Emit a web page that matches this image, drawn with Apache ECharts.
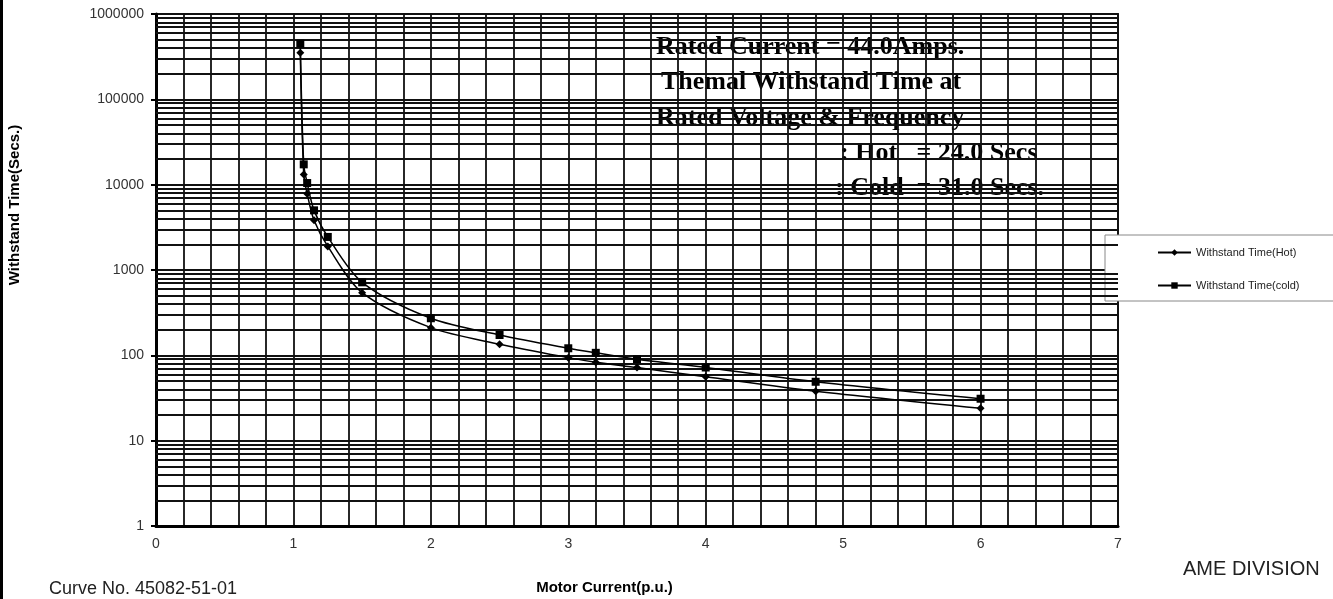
<!DOCTYPE html>
<html>
<head>
<meta charset="utf-8">
<script src="https://cdn.jsdelivr.net/npm/echarts@6/dist/echarts.min.js"></script>
<style>
html,body{margin:0;padding:0;background:#fff;}
#chart{width:1333px;height:599px;}
</style>
</head>
<body>
<div id="chart"></div>
<script>
// ---- data ----
const currentPU = [1.05, 1.075, 1.1, 1.15, 1.25, 1.5, 2.0, 2.5, 3.0, 3.2, 3.5, 4.0, 4.8, 6.0];
const hotTime   = [352000, 13200, 7850, 3820, 1890, 542, 211, 135, 94, 83, 72, 56, 38, 24];
const coldTime  = [449000, 17300, 10450, 5000, 2440, 717, 272, 173, 121, 107, 90, 72, 49, 31];
const seriesNames = ['Withstand Time(Hot)', 'Withstand Time(cold)'];
const infoLines = [
  'Rated Current = 44.0Amps.',
  'Themal Withstand Time at',
  'Rated Voltage & Frequency',
  ': Hot   = 24.0 Secs',
  ': Cold  = 31.0 Secs.'
];
const yAxisTitle = 'Withstand Time(Secs.)';
const xAxisTitle = 'Motor Current(p.u.)';
const curveNo = 'Curve No. 45082-51-01';
const division = 'AME DIVISION';

// log-axis minor gridline positions (2..9 x each decade)
const minorLogLines = [];
for (let d = 0; d < 6; d++) {
  for (let k = 2; k <= 9; k++) minorLogLines.push({ yAxis: k * Math.pow(10, d) });
}

const hotData = currentPU.map((x, i) => [x, hotTime[i]]);
const coldData = currentPU.map((x, i) => [x, coldTime[i]]);

const SANS = "'Liberation Sans', Arial, sans-serif";
const SERIF = "'Liberation Serif', 'Times New Roman', serif";
const GRID_COLOR = '#111';
const GRID_W = 1.8;

const chart = echarts.init(document.getElementById('chart'), null, { renderer: 'canvas' });

const infoX = [656, 661, 656, 840, 835];
const infoMid = [47.5, 82.7, 117.9, 153.1, 188.3];

const graphics = [
  { type: 'rect', left: 0, top: 0, shape: { width: 3, height: 599 }, style: { fill: '#000' }, z: 10 },
  { type: 'text', x: 15, y: 205, rotation: Math.PI / 2,
    style: { text: yAxisTitle, font: 'bold 15px ' + SANS, fill: '#000', align: 'center', verticalAlign: 'middle' } },
  { type: 'text', x: 49, y: 589,
    style: { text: curveNo, font: '18px ' + SANS, fill: '#222', align: 'left', verticalAlign: 'middle' } },
  { type: 'text', x: 604.5, y: 588,
    style: { text: xAxisTitle, font: 'bold 15px ' + SANS, fill: '#000', align: 'center', verticalAlign: 'middle' } },
  { type: 'text', x: 1183, y: 569,
    style: { text: division, font: '20px ' + SANS, fill: '#222', align: 'left', verticalAlign: 'middle' } }
];
infoLines.forEach((t, i) => {
  graphics.push({ type: 'text', x: infoX[i], y: infoMid[i],
    style: { text: t, font: 'bold 26px ' + SERIF, fill: '#000', align: 'left', verticalAlign: 'middle' } });
});

const option = {
  animation: false,
  backgroundColor: '#fff',
  grid: { left: 156, top: 14, width: 962, height: 512, show: true, borderColor: '#222', borderWidth: 2, backgroundColor: 'transparent' },
  legend: {
    orient: 'vertical',
    left: 1105, top: 235,
    padding: [12, 50, 10, 52],
    itemWidth: 33, itemHeight: 8, itemGap: 22,
    backgroundColor: '#fff', borderColor: '#888', borderWidth: 1,
    textStyle: { fontFamily: SANS, fontSize: 11, color: '#222' },
    data: seriesNames
  },
  xAxis: {
    type: 'value', min: 0, max: 7, interval: 1,
    axisLine: { show: true, onZero: false, lineStyle: { color: '#000', width: 3 } },
    axisTick: { show: false },
    minorTick: { show: false, splitNumber: 5 },
    splitLine: { show: true, lineStyle: { color: GRID_COLOR, width: GRID_W } },
    minorSplitLine: { show: true, lineStyle: { color: GRID_COLOR, width: GRID_W } },
    axisLabel: { margin: 11, fontFamily: SANS, fontSize: 14, color: '#333' }
  },
  yAxis: {
    type: 'log', logBase: 10, min: 1, max: 1000000,
    axisLine: { show: true, lineStyle: { color: '#000', width: 3 } },
    axisTick: { show: true, inside: false, length: 5, lineStyle: { color: '#000', width: 2 } },
    splitLine: { show: true, lineStyle: { color: GRID_COLOR, width: 2.2 } },
    axisLabel: { margin: 12, fontFamily: SANS, fontSize: 14, color: '#333',
      formatter: v => String(Math.round(v)) }
  },
  graphic: graphics,
  series: [
    {
      name: seriesNames[0], type: 'line', data: hotData, smooth: 0.3,
      symbol: 'diamond', symbolSize: 8,
      lineStyle: { color: '#000', width: 1.5 },
      itemStyle: { color: '#000' }, z: 5
    },
    {
      name: seriesNames[1], type: 'line', data: coldData, smooth: 0.3,
      symbol: 'rect', symbolSize: 8,
      lineStyle: { color: '#000', width: 1.5 },
      itemStyle: { color: '#000' }, z: 5
    },
    {
      name: 'gridlines', type: 'line', data: [], silent: true, z: 1,
      markLine: {
        silent: true, symbol: 'none', animation: false,
        label: { show: false },
        lineStyle: { color: GRID_COLOR, width: GRID_W, type: 'solid' },
        data: minorLogLines
      }
    }
  ]
};
chart.setOption(option);
</script>
</body>
</html>
